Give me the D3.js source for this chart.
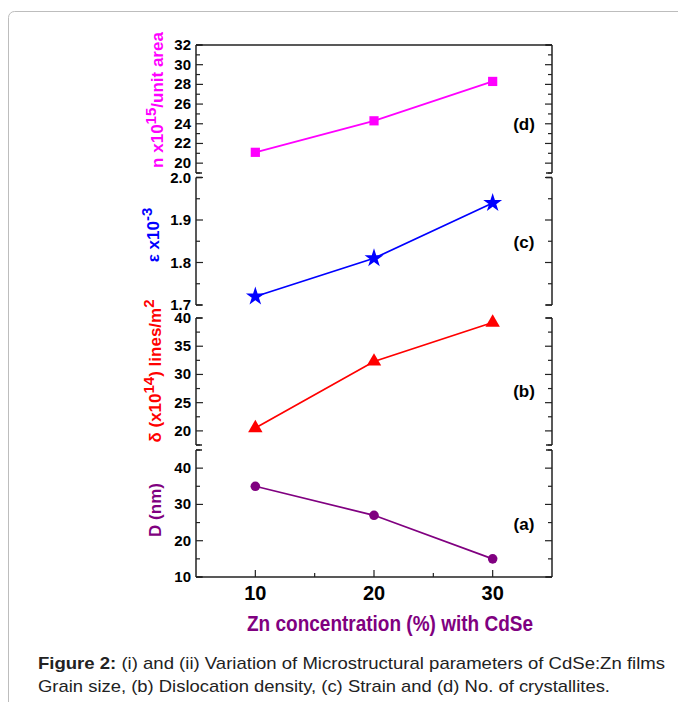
<!DOCTYPE html>
<html>
<head>
<meta charset="utf-8">
<script src="https://cdn.jsdelivr.net/npm/d3@7"></script>
<style>
  body { margin: 0; background: #fff; }
  svg { display: block; }
  text { font-family: "Liberation Sans", Arial, sans-serif; }
</style>
</head>
<body>
<div id="chart"></div>
<script>
// dades llegides de la figura
const concentracio = [10, 20, 30];
const cristalls = [21.1, 24.3, 28.3];     // (d) n x10^15 / unit area
const deformacio = [1.72, 1.81, 1.94];    // (c) strain x10^-3
const dislocacio = [20.5, 32.3, 39.2];    // (b) dislocation density
const midaGra = [35, 27, 15];             // (a) grain size D (nm)

const xTicks = [10, 20, 30];
const xMinor = [15, 25];

const W = 678, H = 702;
const svg = d3.select("#chart").append("svg")
    .attr("width", W)
    .attr("height", H);

// marc arrodonit de fons
svg.append("rect")
    .attr("x", 8.5).attr("y", 11.5)
    .attr("width", 700).attr("height", 720)
    .attr("rx", 6)
    .attr("fill", "none")
    .attr("stroke", "#bdbdbd")
    .attr("stroke-width", 1);

const left = 196, right = 552;
const x = d3.scaleLinear().domain([5, 35]).range([left, right]);

const panels = [
    {id: "d", values: cristalls, domain: [19, 32], range: [173, 45], major: [20, 22, 24, 26, 28, 30, 32],
     minor: [19, 21, 23, 25, 27, 29, 31], fmt: d3.format("d"), color: "#ff00ff", symbol: d3.symbolSquare, size: 85},
    {id: "c", values: deformacio, domain: [1.7, 2.0], range: [305, 177.5], major: [1.7, 1.8, 1.9, 2.0],
     minor: [1.75, 1.85, 1.95], fmt: d3.format(".1f"), color: "#0000ff", symbol: d3.symbolStar, size: 110},
    {id: "b", values: dislocacio, domain: [17.5, 40], range: [445, 318], major: [20, 25, 30, 35, 40],
     minor: [17.5, 22.5, 27.5, 32.5, 37.5], fmt: d3.format("d"), color: "#ff0000", symbol: d3.symbolTriangle, size: 90},
    {id: "a", values: midaGra, domain: [10, 45], range: [577, 450], major: [10, 20, 30, 40],
     minor: [15, 25, 35, 45], fmt: d3.format("d"), color: "#800080", symbol: d3.symbolCircle, size: 72}
];

const axisColor = "#222";

panels.forEach(function(p) {
    const y = d3.scaleLinear().domain(p.domain).range(p.range);
    const g = svg.append("g").attr("class", "panel-" + p.id);

    // eixos verticals esquerre i dret
    [left, right].forEach(function(xx) {
        g.append("line")
            .attr("x1", xx).attr("x2", xx)
            .attr("y1", y(p.domain[0])).attr("y2", y(p.domain[1]))
            .attr("stroke", axisColor).attr("stroke-width", 1.5);
    });

    // tancaments als extrems
    p.domain.forEach(function(v) {
        g.append("line").attr("x1", left).attr("x2", left + 6)
            .attr("y1", y(v)).attr("y2", y(v))
            .attr("stroke", axisColor).attr("stroke-width", 1.5);
        g.append("line").attr("x1", right - 6).attr("x2", right)
            .attr("y1", y(v)).attr("y2", y(v))
            .attr("stroke", axisColor).attr("stroke-width", 1.5);
    });

    // marques principals i secundaries
    p.major.forEach(function(v) {
        g.append("line").attr("x1", left).attr("x2", left + 7)
            .attr("y1", y(v)).attr("y2", y(v))
            .attr("stroke", axisColor).attr("stroke-width", 1.2);
        g.append("line").attr("x1", right - 7).attr("x2", right)
            .attr("y1", y(v)).attr("y2", y(v))
            .attr("stroke", axisColor).attr("stroke-width", 1.2);
        g.append("text")
            .attr("x", left - 5)
            .attr("y", y(v) + 5)
            .attr("text-anchor", "end")
            .style("font-size", "15px")
            .style("font-weight", "bold")
            .text(p.fmt(v));
    });
    p.minor.forEach(function(v) {
        g.append("line").attr("x1", left).attr("x2", left + 4)
            .attr("y1", y(v)).attr("y2", y(v))
            .attr("stroke", axisColor).attr("stroke-width", 1.2);
        g.append("line").attr("x1", right - 4).attr("x2", right)
            .attr("y1", y(v)).attr("y2", y(v))
            .attr("stroke", axisColor).attr("stroke-width", 1.2);
    });

    // linia i marcadors
    const punts = concentracio.map((c, i) => [c, p.values[i]]);
    g.append("path")
        .datum(punts)
        .attr("fill", "none")
        .attr("stroke", p.color)
        .attr("stroke-width", 1.7)
        .attr("d", d3.line().x(d => x(d[0])).y(d => y(d[1])));

    g.selectAll(".marcador")
        .data(punts)
        .enter()
        .append("path")
            .attr("class", "marcador")
            .attr("transform", d => `translate(${x(d[0])},${y(d[1])})`)
            .attr("d", d3.symbol().type(p.symbol).size(p.size))
            .attr("fill", p.color);
});

// vora superior del panell (d)
svg.append("line")
    .attr("x1", left).attr("x2", right)
    .attr("y1", 45).attr("y2", 45)
    .attr("stroke", axisColor).attr("stroke-width", 1.5);

// eix X inferior
svg.append("line")
    .attr("x1", left).attr("x2", right)
    .attr("y1", 577).attr("y2", 577)
    .attr("stroke", axisColor).attr("stroke-width", 1.5);

xTicks.forEach(function(v) {
    svg.append("line").attr("x1", x(v)).attr("x2", x(v))
        .attr("y1", 577).attr("y2", 570)
        .attr("stroke", axisColor).attr("stroke-width", 1.2);
    svg.append("text")
        .attr("x", x(v))
        .attr("y", 600)
        .attr("text-anchor", "middle")
        .style("font-size", "20px")
        .style("font-weight", "bold")
        .text(v);
});
xMinor.forEach(function(v) {
    svg.append("line").attr("x1", x(v)).attr("x2", x(v))
        .attr("y1", 577).attr("y2", 573)
        .attr("stroke", axisColor).attr("stroke-width", 1.2);
});

// títol eix X
svg.append("text")
    .attr("x", 247)
    .attr("y", 631)
    .attr("textLength", 286)
    .attr("lengthAdjust", "spacingAndGlyphs")
    .style("font-size", "22px")
    .style("font-weight", "bold")
    .style("fill", "#800080")
    .text("Zn concentration (%) with CdSe");

// etiquetes dels panells
const etiquetes = [["(d)", 130], ["(c)", 248], ["(b)", 397], ["(a)", 530]];
etiquetes.forEach(function(e) {
    svg.append("text")
        .attr("x", 524)
        .attr("y", e[1])
        .attr("text-anchor", "middle")
        .style("font-size", "17px")
        .style("font-weight", "bold")
        .text(e[0]);
});

// títols eixos Y (girats)
function titolY(cx, cy, color, parts) {
    const t = svg.append("text")
        .attr("transform", `translate(${cx},${cy}) rotate(-90)`)
        .attr("text-anchor", "middle")
        .style("font-size", "17px")
        .style("font-weight", "bold")
        .style("fill", color);
    parts.forEach(function(p) {
        const s = t.append("tspan").text(p.text);
        if (p.sup) s.attr("dy", -7).style("font-size", "15px");
        if (p.back) s.attr("dy", 7);
    });
}

titolY(163, 100, "#ff00ff", [
    {text: "n x10"}, {text: "15", sup: true}, {text: "/unit area", back: true}
]);
titolY(159, 235, "#0000ff", [
    {text: "ε x10"}, {text: "-3", sup: true}
]);
titolY(161, 371, "#ff0000", [
    {text: "δ (x10"}, {text: "14", sup: true}, {text: ") lines/m", back: true}, {text: "2", sup: true}
]);
titolY(161, 510, "#800080", [
    {text: "D (nm)"}
]);

// peu de figura
const peu1 = svg.append("text")
    .attr("x", 38).attr("y", 669)
    .attr("textLength", 627)
    .attr("lengthAdjust", "spacingAndGlyphs")
    .style("font-size", "17px")
    .style("fill", "#222");
peu1.append("tspan").style("font-weight", "bold").text("Figure 2:");
peu1.append("tspan").text(" (i) and (ii) Variation of Microstructural parameters of CdSe:Zn films");

svg.append("text")
    .attr("x", 38).attr("y", 692)
    .attr("textLength", 572)
    .attr("lengthAdjust", "spacingAndGlyphs")
    .style("font-size", "17px")
    .style("fill", "#222")
    .text("Grain size, (b) Dislocation density, (c) Strain and (d) No. of crystallites.");
</script>
</body>
</html>
